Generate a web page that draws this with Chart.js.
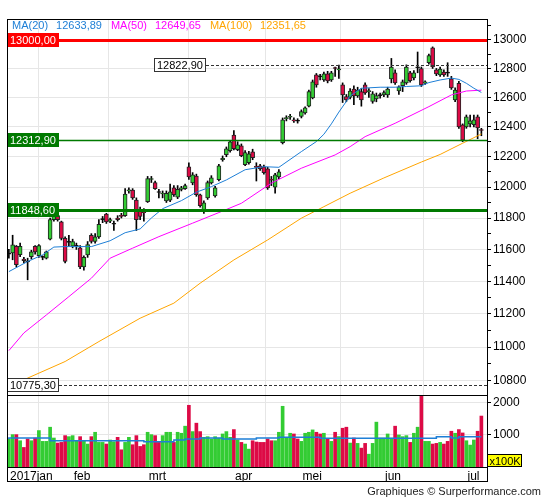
<!DOCTYPE html>
<html>
<head>
<meta charset="utf-8">
<script src="https://cdn.jsdelivr.net/npm/chart.js@4.4.1/dist/chart.umd.min.js"></script>
<style>
  html, body { margin: 0; padding: 0; background: #fff; }
  canvas { display: block; }
</style>
</head>
<body>
<canvas id="chart" width="545" height="500"></canvas>
<script>
// Daily candles Jan 9 - Jul 7 2017, price pane (log) + volume pane

const months = ['2017jan', 'feb', 'mrt', 'apr', 'mei', 'jun', 'jul'];
const monthStarts = [0, 17, 37, 60, 78, 100, 122];

const opens = [
  11570, 11578, 11620, 11567, 11540, 11525, 11555, 11620, 11560, 11550, 11545, 11665, 11790, 11815, 11775, 11670, 11645,
  11620, 11620, 11610, 11490, 11565, 11690, 11650, 11680, 11790, 11825, 11780, 11760, 11800, 11815, 11815, 11975, 11980, 11915, 11850, 11840,
  11905, 12050, 12030, 11968, 11955, 11910, 11915, 11995, 11935, 11985, 11990, 12133, 12028, 12073, 11950, 11852, 11930, 12028, 11943, 12048, 12180, 12213, 12240,
  12345, 12247, 12273, 12148, 12160, 12233, 12135, 12140, 12133, 12120, 12050, 12000, 12067, 12293, 12455, 12465, 12445, 12440,
  12470, 12495, 12540, 12597, 12755, 12745, 12720, 12762, 12720, 12805, 12790, 12686, 12605, 12600, 12657, 12610, 12640, 12686, 12640, 12573, 12590, 12612,
  12617, 12617, 12727, 12770, 12645, 12680, 12700, 12770, 12735, 12805, 12800, 12700, 12840, 12945, 12790, 12755, 12775, 12770, 12728, 12583, 12697, 12413,
  12400, 12420, 12415, 12467, 12380
];
const highs = [
  11600, 11690, 11625, 11640, 11550, 11545, 11595, 11625, 11630, 11560, 11590, 11800, 11870, 11830, 11780, 11680, 11690,
  11665, 11640, 11625, 11560, 11650, 11700, 11700, 11790, 11810, 11830, 11800, 11780, 11815, 11830, 11990, 11995, 11990, 11930, 11870, 11860,
  12070, 12070, 12040, 11985, 11975, 11975, 12020, 12010, 12010, 12005, 12020, 12160, 12095, 12085, 11955, 11910, 12040, 12075, 12005, 12150, 12205, 12265, 12310,
  12375, 12300, 12285, 12240, 12235, 12250, 12160, 12150, 12145, 12130, 12070, 12090, 12115, 12460, 12475, 12485, 12460, 12455,
  12515, 12535, 12650, 12720, 12765, 12760, 12775, 12780, 12780, 12810, 12823, 12700, 12620, 12660, 12680, 12670, 12660, 12700, 12660, 12640, 12630, 12630,
  12645, 12670, 12870, 12790, 12680, 12720, 12825, 12780, 12785, 12915, 12810, 12715, 12900, 12951, 12800, 12810, 12790, 12840, 12745, 12665, 12710, 12420,
  12480, 12480, 12480, 12480, 12390
];
const lows = [
  11545, 11535, 11490, 11555, 11515, 11410, 11540, 11570, 11550, 11535, 11540, 11660, 11780, 11780, 11660, 11515, 11620,
  11610, 11600, 11480, 11470, 11550, 11640, 11640, 11670, 11770, 11765, 11770, 11720, 11780, 11800, 11810, 11960, 11920, 11720, 11790, 11780,
  11900, 12030, 11985, 11930, 11930, 11900, 11905, 11940, 11925, 11975, 11985, 12050, 12015, 11940, 11870, 11830, 11920, 12020, 11935, 12040, 12170, 12200, 12230,
  12245, 12240, 12200, 12140, 12150, 12180, 12040, 12110, 12085, 11985, 12010, 11960, 12055, 12285, 12440, 12450, 12430, 12425,
  12460, 12485, 12535, 12590, 12670, 12720, 12710, 12700, 12710, 12745, 12730, 12565, 12570, 12590, 12550, 12600, 12540, 12620, 12600, 12560, 12570, 12595,
  12605, 12600, 12700, 12690, 12620, 12640, 12690, 12705, 12720, 12770, 12675, 12690, 12830, 12800, 12750, 12745, 12745, 12745, 12655, 12570, 12390, 12300,
  12390, 12400, 12400, 12320, 12340
];
const closes = [
  11572, 11629, 11505, 11620, 11530, 11522, 11585, 11585, 11625, 11552, 11585, 11790, 11840, 11790, 11670, 11525, 11648,
  11650, 11622, 11490, 11550, 11630, 11650, 11680, 11760, 11792, 11775, 11790, 11762, 11790, 11810, 11955, 11980, 11930, 11790, 11810, 11835,
  12055, 12055, 11990, 11965, 11960, 11960, 11970, 11950, 11985, 11995, 12010, 12067, 12080, 11950, 11880, 11898, 12030, 12060, 11995, 12140, 12190, 12253, 12300,
  12253, 12280, 12207, 12227, 12220, 12193, 12130, 12120, 12094, 11995, 12045, 12080, 12100, 12447, 12460, 12470, 12440, 12438,
  12503, 12528, 12640, 12708, 12686, 12742, 12762, 12713, 12770, 12800, 12795, 12617, 12583, 12643, 12610, 12651, 12583, 12630, 12645, 12625, 12612, 12615,
  12634, 12658, 12810, 12700, 12672, 12707, 12810, 12715, 12770, 12808, 12686, 12705, 12890, 12810, 12762, 12795, 12755, 12768, 12665, 12651, 12400, 12310,
  12467, 12440, 12447, 12393, 12375
];

// volume in units of 100K
const volumes = [
  874, 1010, 1010, 820, 610, 874, 820, 905, 1137, 800, 800, 1242, 905, 747, 768, 979, 947, 979, 820, 947, 820,
  716, 947, 1084, 768, 768, 716, 842, 789, 926, 537, 768, 926, 695, 979, 642, 695, 1084, 1010, 979, 768,
  979, 1084, 1084, 768, 1084, 1053, 1274, 1926, 1105, 1368, 1105, 926, 947, 874, 947, 900,
  1031, 1105, 926, 1168, 842, 768, 716, 558, 820, 780, 768, 768, 874, 820, 820, 1084, 1895,
  926, 1053, 1031, 874, 800, 1053, 1084, 1158, 1084, 1031, 1053, 874, 800, 1084, 950,
  1210, 1242, 747, 905, 737, 589, 737, 400, 737, 1400, 905, 905, 1031, 900,
  1274, 1000, 947, 979, 768, 1053, 1242, 2240, 800, 800, 716, 737, 768, 716, 800,
  1116, 1053, 1168, 1063, 820, 684, 842, 1116, 1590
];

// moving averages (day index -> value)
const ma20Idx = [0, 5, 9, 12, 15, 22, 27, 31, 35, 38, 41, 46, 50, 54, 58, 63, 68, 72, 78, 82, 84, 86, 88, 91, 94, 99, 103, 106, 110, 112, 115, 118, 120, 122, 124, 126];
const ma20Val = [11461, 11524, 11566, 11615, 11618, 11618, 11655, 11706, 11730, 11800, 11860, 11912, 11967, 12003, 12047, 12114, 12134, 12130, 12234, 12301, 12350, 12420, 12500, 12610, 12663, 12670, 12670, 12675, 12680, 12702, 12720, 12733, 12724, 12697, 12663, 12633.89];
const ma50Idx = [0, 4, 10, 16, 22, 27, 33, 40, 49, 56, 62, 70, 78, 87, 91, 95, 103, 112, 118, 122, 126];
const ma50Val = [10979, 11085, 11194, 11306, 11420, 11545, 11608, 11681, 11767, 11835, 11895, 12026, 12124, 12212, 12267, 12334, 12424, 12537, 12617, 12644, 12649.65];
const ma100Idx = [0, 5, 15, 24, 35, 44, 51, 60, 69, 78, 84, 91, 100, 110, 115, 121, 126];
const ma100Val = [10772, 10816, 10914, 11033, 11174, 11266, 11389, 11534, 11660, 11799, 11873, 11960, 12060, 12165, 12215, 12290, 12351.65];
const volMaIdx = [0, 11, 36, 44, 47, 51, 57, 66, 72, 83, 114, 118, 120, 124, 126];
const volMaVal = [874, 905, 821, 790, 842, 874, 905, 874, 905, 926, 895, 947, 905, 947, 947];

const maNames = ['MA(20)', 'MA(50)', 'MA(100)'];
const maLatest = [12633.89, 12649.65, 12351.65];

const levels = [13000, 12822.9, 12312.9, 11848.6, 10775.3];

const priceTicks = [10800, 10900, 11000, 11100, 11200, 11300, 11400, 11500, 11600, 11700, 11800, 11900,
  12000, 12100, 12200, 12300, 12400, 12500, 12600, 12700, 12800, 12900, 13000, 13100];
const volumeTicks = [1000, 2000];

const FONT = '"Liberation Sans", Arial, sans-serif';
const UP = '#33cc33';
const DOWN = '#dd0a46';
const MA_COLORS = ['#1e7fd6', '#ff00ff', '#ffa500'];
const PRICE_MIN = 10717, PRICE_MAX = 13149, VOL_MAX = 2247;

const fmt = v => v.toFixed(2).replace('.', ',');
const isUp = i => closes[i] >= opens[i];
const pts = (idx, val) => idx.map((x, k) => ({x: x, y: val[k]}));

const wickData = lows.map((lo, i) => ({x: i, y: [lo, highs[i]]}));
const bodyData = opens.map((o, i) => ({x: i, y: [Math.min(o, closes[i]), Math.max(o, closes[i])]}));
const volData = volumes.map((v, i) => ({x: i, y: v}));

// level lines: colour, width, dash, label box
const levelStyles = [
  {color: '#ff0000', width: 3, box: '#ff0000', text: '#fff'},
  {color: '#333', width: 1, dash: [3, 2], box: '#fff', frame: '#333', text: '#000', boxX: 154},
  {color: '#007a00', width: 1.5, box: '#007a00', text: '#fff'},
  {color: '#007a00', width: 3, box: '#007a00', text: '#fff'},
  {color: '#333', width: 1, dash: [3, 2], box: '#fff', frame: '#333', text: '#000'},
];

const overlay = {
  id: 'overlay',
  afterDatasetsDraw(chart) {
    const {ctx, chartArea: area, scales} = chart;
    const y = scales.y, yv = scales.yv, x = scales.x;

    // levels, clipped to price pane
    ctx.save();
    ctx.beginPath();
    ctx.rect(area.left, y.top, area.right - area.left, y.bottom - y.top);
    ctx.clip();
    ctx.font = '11px ' + FONT;
    ctx.textBaseline = 'middle';
    levels.forEach((lv, k) => {
      const st = levelStyles[k];
      const py = Math.round(y.getPixelForValue(lv));
      const label = fmt(lv);
      const w = Math.ceil(ctx.measureText(label).width) + 6;
      const bx = st.boxX !== undefined ? st.boxX : area.left;
      ctx.beginPath();
      ctx.setLineDash(st.dash || []);
      ctx.strokeStyle = st.color;
      ctx.lineWidth = st.width;
      const ly = st.width % 2 ? py + 0.5 : py;
      ctx.moveTo(bx + w, ly);
      ctx.lineTo(area.right, ly);
      ctx.stroke();
      ctx.setLineDash([]);
      ctx.fillStyle = st.box;
      ctx.fillRect(bx, py - 7, w, 14);
      if (st.frame) {
        ctx.strokeStyle = st.frame;
        ctx.lineWidth = 1;
        ctx.strokeRect(bx + 0.5, py - 6.5, w - 1, 13);
      }
      ctx.fillStyle = st.text;
      ctx.fillText(label, bx + 3, py + 1);
    });
    ctx.restore();

    // frame
    ctx.save();
    ctx.strokeStyle = '#000';
    ctx.lineWidth = 1;
    ctx.strokeRect(area.left + 0.5, area.top + 0.5, area.right - area.left, x.bottom - area.top - 1);
    ctx.beginPath();
    ctx.moveTo(area.left, Math.round(yv.top) + 0.5);
    ctx.lineTo(area.right, Math.round(yv.top) + 0.5);
    ctx.stroke();

    // MA legend
    ctx.font = '11px ' + FONT;
    ctx.textBaseline = 'middle';
    let lx = area.left + 5;
    maNames.forEach((name, k) => {
      ctx.fillStyle = MA_COLORS[k];
      ctx.fillText(name, lx, 26);
      lx += ctx.measureText(name).width + 8;
      const val = fmt(maLatest[k]);
      ctx.fillText(val, lx, 26);
      lx += ctx.measureText(val).width + 9;
    });

    // volume unit box
    ctx.fillStyle = '#ffff00';
    ctx.fillRect(area.right + 1, yv.bottom - 12, 33, 12);
    ctx.strokeStyle = '#000';
    ctx.strokeRect(area.right + 0.5, yv.bottom - 12.5, 34, 12);
    ctx.fillStyle = '#000';
    ctx.textAlign = 'center';
    ctx.fillText('x100K', area.right + 18, yv.bottom - 5.5);

    // footer
    ctx.textAlign = 'right';
    ctx.fillStyle = '#222';
    ctx.fillText('Graphiques \u00a9 Surperformance.com', 541, 492);
    ctx.restore();
  }
};

new Chart(document.getElementById('chart'), {
  type: 'bar',
  data: {
    datasets: [
      {type: 'line', data: pts(ma20Idx, ma20Val), yAxisID: 'y', borderColor: MA_COLORS[0], borderWidth: 1, pointRadius: 0},
      {type: 'line', data: pts(ma50Idx, ma50Val), yAxisID: 'y', borderColor: MA_COLORS[1], borderWidth: 1, pointRadius: 0},
      {type: 'line', data: pts(ma100Idx, ma100Val), yAxisID: 'y', borderColor: MA_COLORS[2], borderWidth: 1, pointRadius: 0},
      {type: 'line', data: pts(volMaIdx, volMaVal), yAxisID: 'yv', borderColor: MA_COLORS[0], borderWidth: 1.5, pointRadius: 0, stepped: 'after'},
      {
        data: bodyData, yAxisID: 'y', grouped: false, barThickness: 4, minBarLength: 1,
        borderWidth: 1, borderColor: '#222', borderSkipped: false,
        backgroundColor: c => Math.abs(closes[c.dataIndex] - opens[c.dataIndex]) < 4 ? '#000' : (isUp(c.dataIndex) ? UP : DOWN),
      },
      {data: wickData, yAxisID: 'y', grouped: false, barThickness: 1, backgroundColor: '#000'},
      {data: volData, yAxisID: 'yv', grouped: false, barThickness: 3, backgroundColor: c => isUp(c.dataIndex) ? UP : DOWN},
    ],
  },
  options: {
    responsive: false,
    animation: false,
    events: [],
    layout: {padding: {left: 7, top: 19, right: 0, bottom: 18}},
    plugins: {legend: {display: false}, tooltip: {enabled: false}},
    scales: {
      x: {
        type: 'linear', min: -0.5, max: 127.5, offset: false,
        afterBuildTicks: s => { s.ticks = monthStarts.map(i => ({value: i - 0.5})); },
        afterFit: s => { s.height = 15; },
        grid: {color: '#e6e6e6', drawTicks: false},
        border: {color: '#000'},
        ticks: {
          autoSkip: false, maxRotation: 0, align: 'start', labelOffset: 3, padding: 2,
          color: '#000', font: {family: FONT, size: 12},
          callback: (v, k) => months[k],
        },
      },
      y: {
        type: 'logarithmic', position: 'right', stack: 'panes', stackWeight: 376,
        min: PRICE_MIN, max: PRICE_MAX, bounds: 'data',
        afterDataLimits: s => { s.min = PRICE_MIN; s.max = PRICE_MAX; },
        afterBuildTicks: s => { s.ticks = priceTicks.map(v => ({value: v})); },
        afterFit: s => { s.width = 58; },
        grid: {
          color: c => (c.tick && c.tick.value % 200 === 0) ? '#e6e6e6' : 'rgba(0,0,0,0)',
          tickColor: '#000', tickLength: 4,
        },
        border: {color: '#000'},
        ticks: {
          autoSkip: false, padding: 2, color: '#000', font: {family: FONT, size: 12},
          callback: v => v % 200 === 0 ? String(v) : '',
        },
      },
      yv: {
        type: 'linear', position: 'right', stack: 'panes', stackWeight: 72,
        min: 0, max: VOL_MAX,
        afterBuildTicks: s => { s.ticks = volumeTicks.map(v => ({value: v})); },
        afterFit: s => { s.width = 58; },
        grid: {color: '#e6e6e6', tickColor: '#000', tickLength: 4},
        border: {color: '#000'},
        ticks: {autoSkip: false, padding: 2, color: '#000', font: {family: FONT, size: 12}, callback: v => String(v)},
      },
    },
  },
  plugins: [overlay],
});
</script>
</body>
</html>
